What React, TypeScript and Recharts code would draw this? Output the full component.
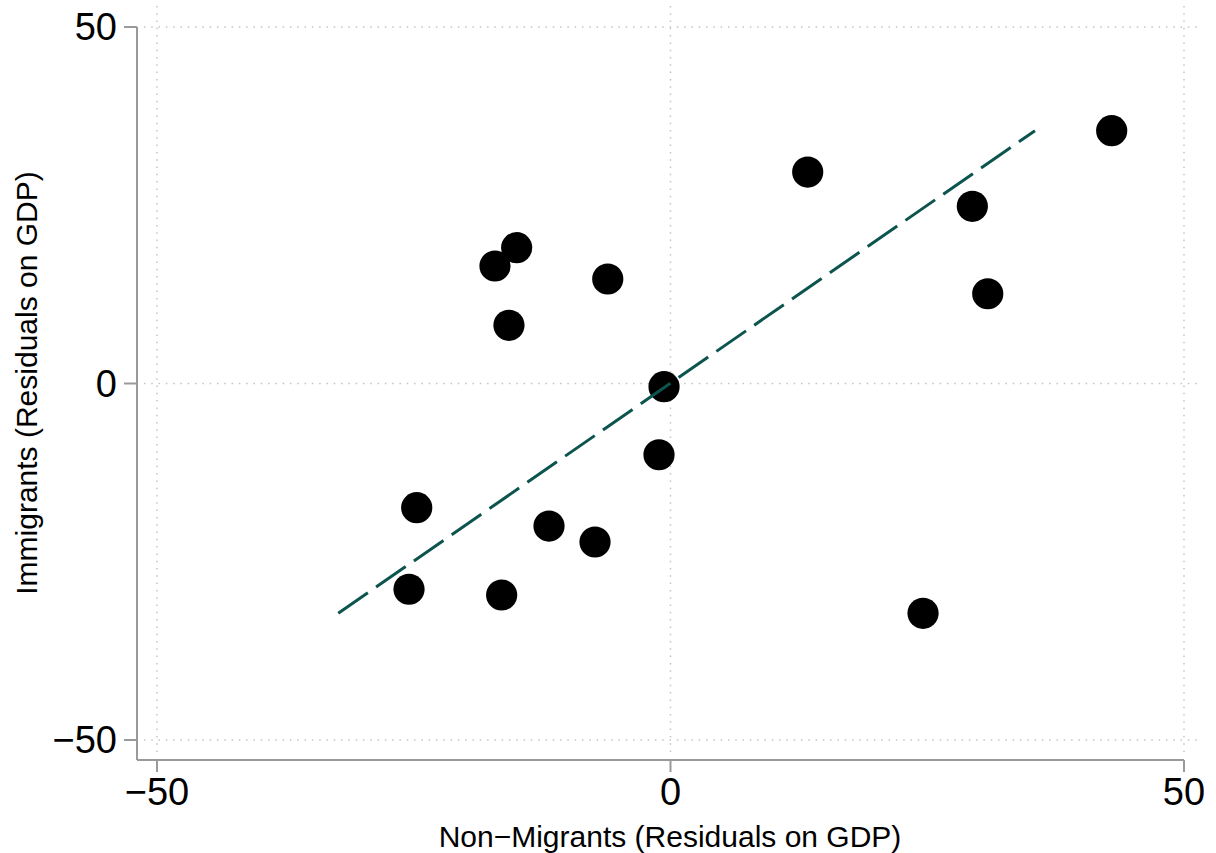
import React from 'react';
import { ScatterChart, Scatter, XAxis, YAxis, ReferenceLine, Label } from 'recharts';

// Data
const nonMigrants = [42.96, 13.36, 29.39, 30.89, -14.98, -17.09, -6.11, -15.73, -0.63, -1.12, -24.71, -16.44, -25.46, -11.83, -7.35, 24.59];
const immigrants = [35.46, 29.66, 24.85, 12.59, 19.05, 16.48, 14.66, 8.16, -0.45, -9.99, -17.42, -29.66, -28.86, -19.99, -22.23, -32.23];
const fitX = [-32.35, 35.49];
const fitY = [-32.23, 35.46];
const tickValues = [-50, 0, 50];
const xTitle = 'Non\u2212Migrants (Residuals on GDP)';
const yTitle = 'Immigrants (Residuals on GDP)';

const points = nonMigrants.map((x, i) => ({ x, y: immigrants[i] }));
const fitLine = fitX.map((x, i) => ({ x, y: fitY[i] }));

const X_DOMAIN: [number, number] = [-51.947, 51.558];
const Y_DOMAIN: [number, number] = [-52.805, 53.086];

const FONT = '"Liberation Sans", Arial, Helvetica, sans-serif';
const GRID = '#c4c4c4';
const AXIS = '#9a9a9a';
const FIT = '#0c544e';

const fmt = (v: number) => (v < 0 ? '\u2212' + Math.abs(v) : String(v));

export default function App() {
  return (
    <div style={{ position: 'absolute', left: 0, top: 0, background: '#fff' }}>
      <ScatterChart
        width={1216}
        height={853}
        margin={{ top: 5, right: 16, bottom: 0, left: 0 }}
      >
        <XAxis
          type="number"
          dataKey="x"
          domain={X_DOMAIN}
          allowDataOverflow
          ticks={tickValues}
          tickFormatter={fmt}
          axisLine={false}
          tickLine={{ stroke: AXIS, strokeWidth: 2 }}
          tickSize={12}
          tickMargin={6}
          height={93}
          interval={0}
          tick={{ fill: '#000', fontSize: 38, fontFamily: FONT }}
        >
          <Label
            content={(props: any) => {
              const vb = props.viewBox || {};
              return (
                <text
                  x={670}
                  y={(vb.y || 760) + 87}
                  textAnchor="middle"
                  fill="#000"
                  fontSize={30}
                  fontFamily={FONT}
                >
                  {xTitle}
                </text>
              );
            }}
          />
        </XAxis>
        <YAxis
          type="number"
          dataKey="y"
          domain={Y_DOMAIN}
          allowDataOverflow
          ticks={tickValues}
          tickFormatter={fmt}
          axisLine={false}
          tickLine={{ stroke: AXIS, strokeWidth: 2 }}
          tickSize={13}
          tickMargin={7}
          width={137}
          interval={0}
          tick={{ fill: '#000', fontSize: 38, fontFamily: FONT }}
        >
          <Label
            content={() => (
              <text
                x={37}
                y={383}
                transform="rotate(-90, 37, 383)"
                textAnchor="middle"
                fill="#000"
                fontSize={30}
                fontFamily={FONT}
              >
                {yTitle}
              </text>
            )}
          />
        </YAxis>

        {tickValues.map((v) => (
          <ReferenceLine
            key={'h' + v}
            segment={[{ x: -51.27, y: v }, { x: 51.36, y: v }]}
            stroke={GRID}
            strokeWidth={1.5}
            strokeDasharray="1.5 5.8"
            ifOverflow="visible"
          />
        ))}
        {tickValues.map((v) => (
          <ReferenceLine
            key={'v' + v}
            segment={[{ x: v, y: -51.68 }, { x: v, y: 53.08 }]}
            stroke={GRID}
            strokeWidth={1.5}
            strokeDasharray="1.5 5.8"
            ifOverflow="visible"
          />
        ))}
        <ReferenceLine
          segment={[{ x: X_DOMAIN[0], y: Y_DOMAIN[0] }, { x: 50, y: Y_DOMAIN[0] }]}
          stroke={AXIS}
          strokeWidth={2}
          ifOverflow="visible"
        />
        <ReferenceLine
          segment={[{ x: X_DOMAIN[0], y: Y_DOMAIN[0] }, { x: X_DOMAIN[0], y: 50 }]}
          stroke={AXIS}
          strokeWidth={2}
          ifOverflow="visible"
        />

        <Scatter
          data={points}
          isAnimationActive={false}
          shape={(p: any) => <circle cx={p.cx} cy={p.cy} r={15.6} fill="#000" />}
        />
        <Scatter
          data={fitLine}
          isAnimationActive={false}
          line={{ stroke: FIT, strokeWidth: 3, strokeDasharray: '36 10' }}
          lineType="joint"
          shape={() => <g />}
        />
      </ScatterChart>
    </div>
  );
}
